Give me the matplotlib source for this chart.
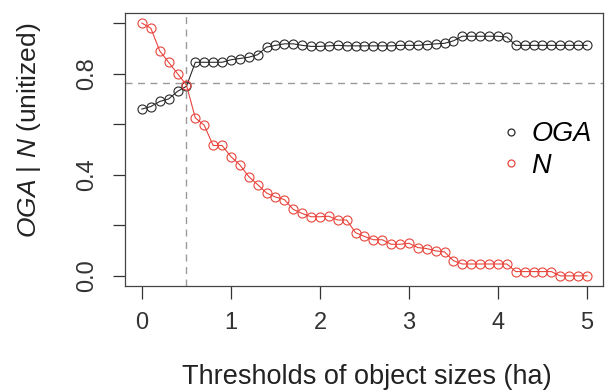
import matplotlib
matplotlib.use("Agg")
import matplotlib.pyplot as plt
from matplotlib.lines import Line2D

plt.rcParams["font.family"] = ["Liberation Sans", "DejaVu Sans"]
plt.rcParams["mathtext.fontset"] = "custom"
plt.rcParams["mathtext.it"] = "Liberation Sans:italic"
plt.rcParams["mathtext.rm"] = "Liberation Sans"

thresholds = [0.0, 0.1, 0.2, 0.3, 0.4, 0.5, 0.6, 0.7, 0.8, 0.9,
              1.0, 1.1, 1.2, 1.3, 1.4, 1.5, 1.6, 1.7, 1.8, 1.9,
              2.0, 2.1, 2.2, 2.3, 2.4, 2.5, 2.6, 2.7, 2.8, 2.9,
              3.0, 3.1, 3.2, 3.3, 3.4, 3.5, 3.6, 3.7, 3.8, 3.9,
              4.0, 4.1, 4.2, 4.3, 4.4, 4.5, 4.6, 4.7, 4.8, 4.9,
              5.0]

oga = [0.66, 0.67, 0.69, 0.70, 0.73, 0.75, 0.845, 0.845, 0.845, 0.845,
       0.855, 0.86, 0.865, 0.875, 0.905, 0.912, 0.918, 0.918, 0.912, 0.908,
       0.908, 0.91, 0.912, 0.91, 0.91, 0.91, 0.91, 0.91, 0.91, 0.912,
       0.912, 0.912, 0.915, 0.918, 0.92, 0.93, 0.948, 0.948, 0.948, 0.948,
       0.948, 0.945, 0.912, 0.912, 0.912, 0.912, 0.912, 0.912, 0.912, 0.912,
       0.912]

n_obj = [1.0, 0.98, 0.89, 0.845, 0.80, 0.755, 0.625, 0.596, 0.516, 0.516,
         0.472, 0.439, 0.393, 0.361, 0.328, 0.312, 0.302, 0.263, 0.247, 0.234,
         0.234, 0.236, 0.221, 0.221, 0.171, 0.156, 0.143, 0.143, 0.125, 0.125,
         0.129, 0.112, 0.108, 0.099, 0.095, 0.06, 0.047, 0.047, 0.047, 0.047,
         0.047, 0.047, 0.017, 0.017, 0.017, 0.017, 0.017, 0.0, 0.0, 0.0,
         0.0]

cut_x = 0.5
cut_y = 0.765

RED = "#e8453c"
BLACK = "#2a2a2a"

fig = plt.figure(figsize=(6.08, 3.92), dpi=100)
ax = fig.add_axes([125 / 608, 1 - 286 / 392, 478 / 608, 273 / 392])

# threshold guides
ax.axvline(cut_x, color="#9a9a9a", linestyle=(0, (5, 4)), linewidth=1.0, zorder=1)
ax.axhline(cut_y, color="#9a9a9a", linestyle=(0, (5, 4)), linewidth=1.0, zorder=1)

ax.plot(thresholds, oga, color=BLACK, linewidth=0.8, marker="o",
        markersize=6.5, markerfacecolor="none", markeredgecolor=BLACK,
        markeredgewidth=0.8, zorder=3)
ax.plot(thresholds, n_obj, color=RED, linewidth=0.8, marker="o",
        markersize=6.5, markerfacecolor="none", markeredgecolor=RED,
        markeredgewidth=0.8, zorder=3)

ax.set_xlim(-0.19, 5.18)
ax.set_ylim(-0.04, 1.04)
ax.set_xticks([0, 1, 2, 3, 4, 5])
ax.set_yticks([0.0, 0.2, 0.4, 0.6, 0.8, 1.0])
ax.set_yticklabels(["0.0", "", "0.4", "", "0.8", ""], rotation=90, va="center")
ax.tick_params(direction="out", length=9, width=0.9, colors="#333",
               labelsize=17)
ax.tick_params(axis="x", pad=10)
ax.tick_params(axis="y", pad=10)
for s in ax.spines.values():
    s.set_color("#444")
    s.set_linewidth(0.9)

fig.text(0.5 * (125 + 603) / 608 + 0.005, 1 - 384 / 392,
         "Thresholds of object sizes (ha)", fontsize=19.5, color="#222",
         ha="center", va="baseline")
fig.text(29 / 608, 1 - 130 / 392, r"$\it{OGA}$ | $\it{N}$ (unitized)",
         fontsize=19, color="#222", rotation=90, ha="center", va="center")

handles = [
    Line2D([], [], linestyle="none", marker="o", markersize=5,
           markerfacecolor="none", markeredgecolor=BLACK, markeredgewidth=0.9),
    Line2D([], [], linestyle="none", marker="o", markersize=5,
           markerfacecolor="none", markeredgecolor=RED, markeredgewidth=0.9),
]
ax.legend(handles, ["OGA", "N"], loc="center left",
          bbox_to_anchor=((504 - 125) / 478, (286 - 150) / 273),
          frameon=False, prop={"size": 19.5, "style": "italic"},
          borderpad=0, borderaxespad=0, handlelength=0.55,
          handletextpad=0.45, labelspacing=0.22)

fig.savefig("out.png", dpi=100, facecolor="white")
